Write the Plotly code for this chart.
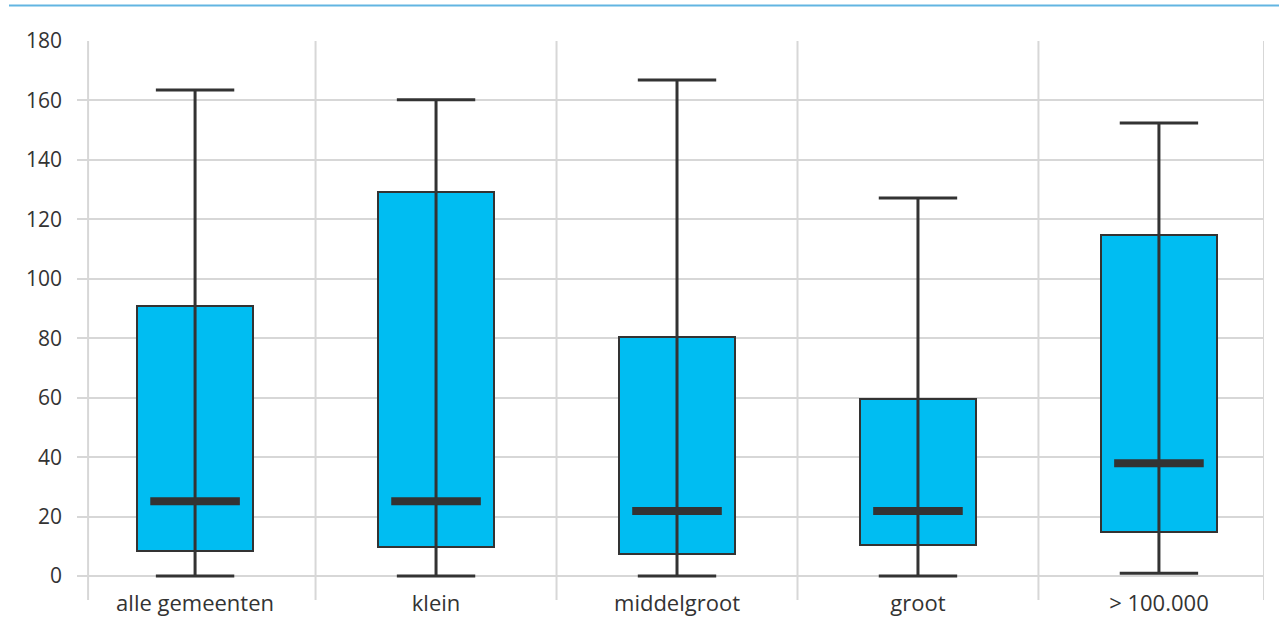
import plotly.graph_objects as go

categories = ["alle gemeenten", "klein", "middelgroot", "groot", "> 100.000"]
minimum = [0, 0, 0, 0, 1]
q1 = [8.4, 9.8, 7.4, 10.4, 14.8]
median = [25.2, 25.2, 21.9, 21.9, 38]
q3 = [90.8, 129.2, 80.4, 59.6, 114.7]
maximum = [163.5, 160.2, 166.9, 127.2, 152.4]
y_ticks = [0, 20, 40, 60, 80, 100, 120, 140, 160, 180]

pos = list(range(len(categories)))
DARK = "#333333"
FILL = "#00BDF2"
GRID = "#d7d7d7"
FONT = "Open Sans"

fig = go.Figure()

# boxes (q1..q3)
fig.add_trace(go.Bar(
    x=pos, y=[b - a for a, b in zip(q1, q3)], base=q1, width=0.481,
    marker=dict(color=FILL, line=dict(color=DARK, width=2)),
    hoverinfo="skip", showlegend=False,
))

# whisker vertical lines
wx, wy = [], []
for p, lo, hi in zip(pos, minimum, maximum):
    wx += [p, p, None]
    wy += [lo, hi, None]
fig.add_trace(go.Scatter(x=wx, y=wy, mode="lines",
                         line=dict(color=DARK, width=3),
                         hoverinfo="skip", showlegend=False))

# caps
fig.add_trace(go.Scatter(
    x=pos + pos, y=minimum + maximum, mode="markers",
    marker=dict(symbol="line-ew", size=56, line=dict(color=DARK, width=3)),
    hoverinfo="skip", showlegend=False))

# medians
fig.add_trace(go.Scatter(
    x=pos, y=median, mode="markers",
    marker=dict(symbol="line-ew", size=64, line=dict(color=DARK, width=8)),
    hoverinfo="skip", showlegend=False))

# vertical separators
sep_x = [-0.444, 0.5, 1.5, 2.5, 3.5, 4.436]
shapes = []
for sx in sep_x:
    shapes.append(dict(type="line", xref="x", yref="paper", x0=sx, x1=sx,
                       y0=-0.022, y1=1, line=dict(color=GRID, width=2), layer="below"))
# top blue rule
shapes.append(dict(type="line", xref="paper", yref="paper", x0=-0.0573, x1=1.02,
                   y0=1.065, y1=1.065, line=dict(color="#62B5E2", width=2)))

fig.update_layout(
    width=1279, height=641,
    margin=dict(l=77, r=15, t=41, b=53, autoexpand=False),
    plot_bgcolor="white", paper_bgcolor="white",
    font=dict(family=FONT, color=DARK, size=21),
    shapes=shapes,
    bargap=0,
    xaxis=dict(range=[-0.49, 4.436], tickvals=pos, ticktext=categories,
               showgrid=False, zeroline=False, showline=False, ticks="",
               automargin=False, tickfont=dict(size=22, color=DARK)),
    yaxis=dict(range=[-4, 180], tickvals=y_ticks, showgrid=True, gridcolor=GRID,
               gridwidth=2, zeroline=False, showline=False, ticks="",
               automargin=False, ticklabelstandoff=14,
               tickfont=dict(size=21, color=DARK)),
)

fig.write_html("out.html", config={"displayModeBar": False},
               post_script="document.body.style.margin='0';")
